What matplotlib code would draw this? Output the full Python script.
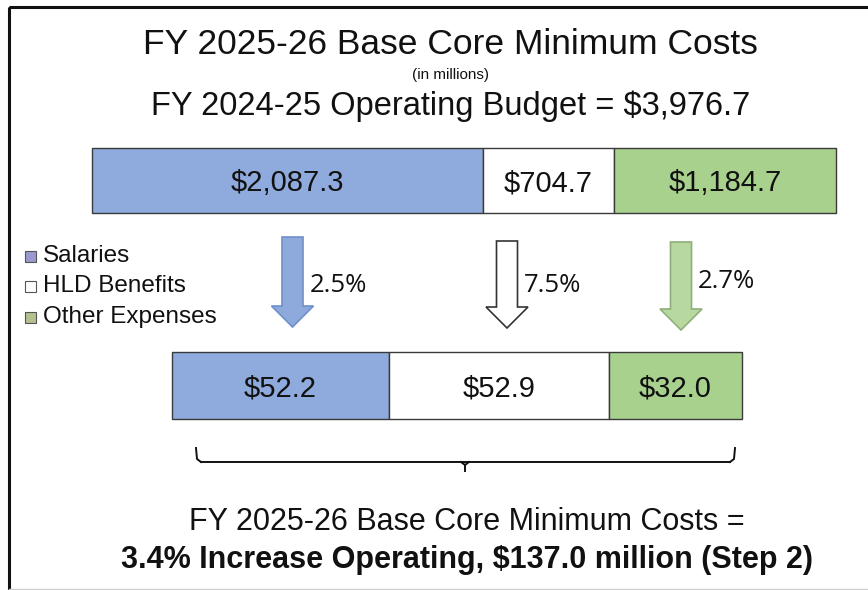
import numpy as np
import matplotlib.pyplot as plt
from matplotlib.patches import FancyArrow, Rectangle

# FY 2024-25 operating budget split (in millions)
categories = ["Salaries", "HLD Benefits", "Other Expenses"]
budget = [2087.3, 704.7, 1184.7]
# FY 2025-26 increase by category (in millions) and growth rates
increase = [52.2, 52.9, 32.0]
rates = ["2.5%", "7.5%", "2.7%"]

fill = ["#8faadc", "#ffffff", "#a9d18e"]
legend_fill = ["#9a9ad0", "#ffffff", "#b4c08e"]
arrow_edge = ["#7090c8", "#333333", "#8fae78"]
arrow_fill = ["#8eaadc", "#ffffff", "#b7d9a0"]

W, H = 868, 590
fig = plt.figure(figsize=(W / 100, H / 100), dpi=100)

# overlay axes in pixel units for text, arrows and frame
ov = fig.add_axes([0, 0, 1, 1])
ov.set_xlim(0, W)
ov.set_ylim(H, 0)
ov.axis("off")

sans = ["Liberation Sans", "DejaVu Sans"]
calib = ["Open Sans", "DejaVu Sans"]

# outer frame (runs off the right and bottom edges)
ov.add_patch(Rectangle((9, 7), 880, 600, fill=False, edgecolor="#111111", lw=2.2))
ov.plot([9, W], [589, 589], color="#cfcfcf", lw=1)

ov.text(450, 44, "FY 2025-26 Base Core Minimum Costs", ha="center", va="center",
        fontsize=25.5, family=sans, color="#111111")
ov.text(450, 75, "(in millions)", ha="center", va="center", fontsize=11, family=sans, color="#111111")
ov.text(451, 106, "FY 2024-25 Operating Budget = $3,976.7", ha="center", va="center",
        fontsize=23.5, family=sans, color="#111111")


def stacked_bar(rect, values, fmt):
    ax = fig.add_axes(rect)
    total = sum(values)
    left = np.concatenate([[0], np.cumsum(values)[:-1]])
    bars = ax.barh(0, values, left=left, height=1.0, color=fill, edgecolor="#3a3a3a", linewidth=1.0)
    for b in bars:
        b.set_clip_on(False)
    for l, v in zip(left, values):
        ax.text(l + v / 2, -0.04, fmt.format(v), ha="center", va="center",
                fontsize=21, family=sans, color="#111111")
    ax.set_xlim(0, total)
    ax.set_ylim(-0.5, 0.5)
    ax.axis("off")
    return ax


stacked_bar([92 / W, 1 - 213 / H, 744 / W, 65 / H], budget, "${:,.1f}")
stacked_bar([172 / W, 1 - 419 / H, 570 / W, 67 / H], increase, "${:,.1f}")

# arrows from the budget bar to the increase bar
arrow_x = [292.5, 507, 681]
arrow_top = [237, 241, 242]
arrow_tip = [327, 328, 330]
label_y = [285, 285, 282]
for i in range(3):
    ov.add_patch(FancyArrow(arrow_x[i], arrow_top[i], 0, arrow_tip[i] - arrow_top[i],
                            width=21, head_width=42, head_length=21,
                            length_includes_head=True, facecolor=arrow_fill[i],
                            edgecolor=arrow_edge[i], lw=1.2))
    ov.text(arrow_x[i] + 17, label_y[i], rates[i], ha="left", va="center",
            fontsize=18.5, family=calib, color="#111111")

# legend
leg_y = [256, 286, 317]
for i in range(3):
    ov.add_patch(Rectangle((25, leg_y[i] - 5.5), 11, 11, facecolor=legend_fill[i],
                           edgecolor="#555555", lw=0.8))
    ov.text(43, leg_y[i], categories[i], ha="left", va="center", fontsize=17.5,
            family=sans, color="#111111")

# curly brace under the increase bar
xl, xr, xm = 196, 735, 465
yt, yb = 448, 462
ov.plot([xl, xl + 1, xl + 5], [yt, yb - 3, yb], color="#111111", lw=1.4)
ov.plot([xr, xr - 1, xr - 5], [yt, yb - 3, yb], color="#111111", lw=1.4)
ov.plot([xl + 5, xr - 5], [yb, yb], color="#111111", lw=1.4)
ov.plot([xm - 4, xm, xm + 4], [yb, yb + 3, yb], color="#111111", lw=1.4)
ov.plot([xm, xm], [yb + 3, yb + 9], color="#111111", lw=1.4)

ov.text(467, 522, "FY 2025-26 Base Core Minimum Costs =", ha="center", va="center",
        fontsize=22, family=sans, color="#111111")
ov.text(467, 560, "3.4% Increase Operating, $137.0 million (Step 2)", ha="center", va="center",
        fontsize=22, family=sans, weight="bold", color="#111111")

fig.savefig("out.png", dpi=100)
